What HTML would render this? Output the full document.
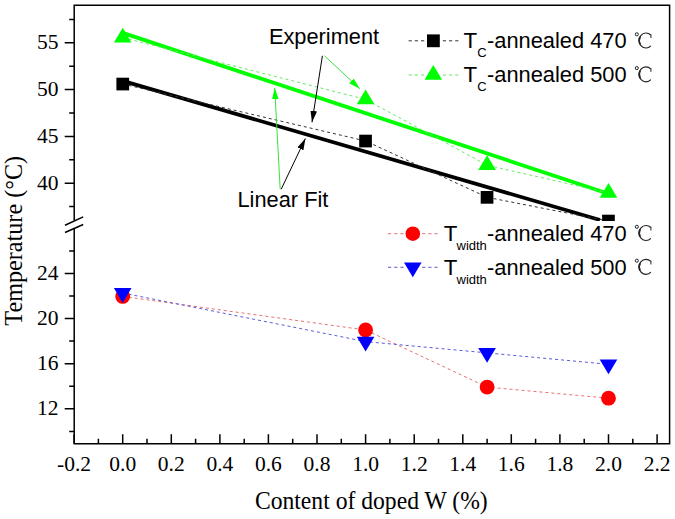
<!DOCTYPE html>
<html><head><meta charset="utf-8"><title>Temperature vs Content of doped W</title>
<style>html,body{margin:0;padding:0;background:#fff;width:675px;height:519px;overflow:hidden}svg{display:block}</style>
</head><body><svg width="675" height="519" viewBox="0 0 675 519"><rect x="0" y="0" width="675" height="519" fill="#fff"/><defs><clipPath id="cu"><rect x="74.2" y="5.2" width="595.4" height="215.8"/></clipPath><clipPath id="cl"><rect x="74.2" y="228.6" width="595.4" height="215.2"/></clipPath><marker id="ab" markerWidth="11.5" markerHeight="6.6" refX="11.5" refY="3.3" orient="auto" markerUnits="userSpaceOnUse"><path d="M0,0 L11.5,3.3 L0,6.6 Z" fill="#000"/></marker><marker id="ag" markerWidth="11.5" markerHeight="6.6" refX="11.5" refY="3.3" orient="auto" markerUnits="userSpaceOnUse"><path d="M0,0 L11.5,3.3 L0,6.6 Z" fill="#00ff00"/></marker></defs><g clip-path="url(#cu)"><line x1="122.7" y1="32.9" x2="608.5" y2="193.7" stroke="#00ff00" stroke-width="3.8"/><line x1="122.7" y1="80.9" x2="600" y2="220.0" stroke="#000" stroke-width="3.7"/><polyline points="122.7,84.0 365.6,141.0 487.1,197.3 608.5,221.1" fill="none" stroke="#333" stroke-width="1" stroke-dasharray="3,3"/><polyline points="122.7,37.6 365.6,99.4 487.1,165.2 608.5,192.9" fill="none" stroke="#66e866" stroke-width="1" stroke-dasharray="3,3"/><rect x="116.4" y="77.7" width="12.7" height="12.7" fill="#000"/><rect x="359.2" y="134.7" width="12.7" height="12.7" fill="#000"/><rect x="480.7" y="191.0" width="12.7" height="12.7" fill="#000"/><rect x="602.1" y="214.7" width="12.7" height="12.7" fill="#000"/><path d="M122.7,27.7 L131.5,42.5 L113.9,42.5 Z" fill="#00ff00"/><path d="M365.6,89.5 L374.4,104.3 L356.8,104.3 Z" fill="#00ff00"/><path d="M487.1,155.3 L495.9,170.1 L478.2,170.1 Z" fill="#00ff00"/><path d="M608.5,183.0 L617.3,197.8 L599.7,197.8 Z" fill="#00ff00"/></g><g clip-path="url(#cl)"><polyline points="122.7,296.4 365.6,330.0 487.1,387.1 608.5,398.2" fill="none" stroke="#e87070" stroke-width="1" stroke-dasharray="3,3"/><polyline points="122.7,293.0 365.6,341.6 487.1,352.9 608.5,364.3" fill="none" stroke="#5a5ad8" stroke-width="1" stroke-dasharray="3,3"/><circle cx="122.7" cy="296.4" r="7.4" fill="#ff0000"/><circle cx="365.6" cy="330.0" r="7.4" fill="#ff0000"/><circle cx="487.1" cy="387.1" r="7.4" fill="#ff0000"/><circle cx="608.5" cy="398.2" r="7.4" fill="#ff0000"/><path d="M122.7,302.9 L131.5,288.1 L113.9,288.1 Z" fill="#0000ff"/><path d="M365.6,351.5 L374.4,336.7 L356.8,336.7 Z" fill="#0000ff"/><path d="M487.1,362.8 L495.9,348.0 L478.2,348.0 Z" fill="#0000ff"/><path d="M608.5,374.2 L617.3,359.4 L599.7,359.4 Z" fill="#0000ff"/></g><path d="M74.2,220.4 V5.2 H669.6 V443.8 H74.2 V228.6 M74.2,443.8 V228.6" fill="none" stroke="#000" stroke-width="1.5"/><path d="M65,225.2 L83.2,216.9 M65,232.5 L83.2,224.5" stroke="#000" stroke-width="1.5"/><path d="M64.7,183.2 H74.2 M64.7,136.4 H74.2 M64.7,89.6 H74.2 M64.7,42.8 H74.2 M69.2,206.6 H74.2 M69.2,159.8 H74.2 M69.2,113.0 H74.2 M69.2,66.2 H74.2 M69.2,19.4 H74.2 M64.7,408.8 H74.2 M64.7,363.7 H74.2 M64.7,318.6 H74.2 M64.7,273.5 H74.2 M69.2,431.4 H74.2 M69.2,386.2 H74.2 M69.2,341.1 H74.2 M69.2,296.1 H74.2 M69.2,251.0 H74.2 M74.1,443.8 V434.3 M122.7,443.8 V434.3 M171.3,443.8 V434.3 M219.9,443.8 V434.3 M268.4,443.8 V434.3 M317.0,443.8 V434.3 M365.6,443.8 V434.3 M414.2,443.8 V434.3 M462.8,443.8 V434.3 M511.3,443.8 V434.3 M559.9,443.8 V434.3 M608.5,443.8 V434.3 M657.1,443.8 V434.3 M98.4,443.8 V438.8 M147.0,443.8 V438.8 M195.6,443.8 V438.8 M244.2,443.8 V438.8 M292.7,443.8 V438.8 M341.3,443.8 V438.8 M389.9,443.8 V438.8 M438.5,443.8 V438.8 M487.1,443.8 V438.8 M535.6,443.8 V438.8 M584.2,443.8 V438.8 M632.8,443.8 V438.8" stroke="#000" stroke-width="1.5" fill="none"/><text x="58.5" y="189.8" text-anchor="end" style="font-family:&quot;Liberation Serif&quot;,serif;font-size:21.5px">40</text><text x="58.5" y="143.0" text-anchor="end" style="font-family:&quot;Liberation Serif&quot;,serif;font-size:21.5px">45</text><text x="58.5" y="96.2" text-anchor="end" style="font-family:&quot;Liberation Serif&quot;,serif;font-size:21.5px">50</text><text x="58.5" y="49.4" text-anchor="end" style="font-family:&quot;Liberation Serif&quot;,serif;font-size:21.5px">55</text><text x="58.5" y="415.4" text-anchor="end" style="font-family:&quot;Liberation Serif&quot;,serif;font-size:21.5px">12</text><text x="58.5" y="370.3" text-anchor="end" style="font-family:&quot;Liberation Serif&quot;,serif;font-size:21.5px">16</text><text x="58.5" y="325.2" text-anchor="end" style="font-family:&quot;Liberation Serif&quot;,serif;font-size:21.5px">20</text><text x="58.5" y="280.1" text-anchor="end" style="font-family:&quot;Liberation Serif&quot;,serif;font-size:21.5px">24</text><text x="74.1" y="470.7" text-anchor="middle" style="font-family:&quot;Liberation Serif&quot;,serif;font-size:21.5px">-0.2</text><text x="122.7" y="470.7" text-anchor="middle" style="font-family:&quot;Liberation Serif&quot;,serif;font-size:21.5px">0.0</text><text x="171.3" y="470.7" text-anchor="middle" style="font-family:&quot;Liberation Serif&quot;,serif;font-size:21.5px">0.2</text><text x="219.9" y="470.7" text-anchor="middle" style="font-family:&quot;Liberation Serif&quot;,serif;font-size:21.5px">0.4</text><text x="268.4" y="470.7" text-anchor="middle" style="font-family:&quot;Liberation Serif&quot;,serif;font-size:21.5px">0.6</text><text x="317.0" y="470.7" text-anchor="middle" style="font-family:&quot;Liberation Serif&quot;,serif;font-size:21.5px">0.8</text><text x="365.6" y="470.7" text-anchor="middle" style="font-family:&quot;Liberation Serif&quot;,serif;font-size:21.5px">1.0</text><text x="414.2" y="470.7" text-anchor="middle" style="font-family:&quot;Liberation Serif&quot;,serif;font-size:21.5px">1.2</text><text x="462.8" y="470.7" text-anchor="middle" style="font-family:&quot;Liberation Serif&quot;,serif;font-size:21.5px">1.4</text><text x="511.3" y="470.7" text-anchor="middle" style="font-family:&quot;Liberation Serif&quot;,serif;font-size:21.5px">1.6</text><text x="559.9" y="470.7" text-anchor="middle" style="font-family:&quot;Liberation Serif&quot;,serif;font-size:21.5px">1.8</text><text x="608.5" y="470.7" text-anchor="middle" style="font-family:&quot;Liberation Serif&quot;,serif;font-size:21.5px">2.0</text><text x="657.1" y="470.7" text-anchor="middle" style="font-family:&quot;Liberation Serif&quot;,serif;font-size:21.5px">2.2</text><text transform="translate(371.3,509.3) scale(0.95,1)" text-anchor="middle" style="font-family:&quot;Liberation Serif&quot;,serif;font-size:24.9px">Content of doped W (%)</text><text transform="translate(21.6,240.8) rotate(-90) scale(0.96,1)" text-anchor="middle" style="font-family:&quot;Liberation Serif&quot;,serif;font-size:25.2px">Temperature (°C)</text><text x="268.9" y="43.9" style="font-family:&quot;Liberation Sans&quot;,sans-serif;font-size:21.8px">Experiment</text><text x="237.5" y="207.2" style="font-family:&quot;Liberation Sans&quot;,sans-serif;font-size:21.8px">Linear Fit</text><line x1="322.4" y1="55.8" x2="312.0" y2="122.3" stroke="#000" stroke-width="1" marker-end="url(#ab)"/><line x1="324.5" y1="55.8" x2="359.8" y2="88.75" stroke="#3ee03e" stroke-width="1" marker-end="url(#ag)"/><line x1="280.2" y1="189.2" x2="274.7" y2="87.8" stroke="#3ee03e" stroke-width="1" marker-end="url(#ag)"/><line x1="281.2" y1="189.2" x2="305.4" y2="138.5" stroke="#000" stroke-width="1" marker-end="url(#ab)"/><text x="463.5" y="48.4" style="font-family:&quot;Liberation Sans&quot;,sans-serif;font-size:22.3px">T</text><text x="477.2" y="56.9" style="font-family:&quot;Liberation Sans&quot;,sans-serif;font-size:13px">C</text><text transform="translate(487.0,48.4) scale(0.98,1)" style="font-family:&quot;Liberation Sans&quot;,sans-serif;font-size:22.3px">-annealed 470</text><circle cx="636.80" cy="34.30" r="1.55" fill="none" stroke="#222" stroke-width="1.0"/><path d="M650.71,35.01 A6.90,7.50 0 1 0 650.88,45.80" fill="none" stroke="#222" stroke-width="1.2"/><path d="M640.12,36.75 A6.90,7.50 0 0 0 640.12,44.25" fill="none" stroke="#222" stroke-width="1.7"/><path d="M650.91,34.21 V38.01" stroke="#222" stroke-width="1.0"/><line x1="408.6" y1="40.8" x2="424.2" y2="40.8" stroke="#333" stroke-width="1" stroke-dasharray="3.2,3"/><line x1="442.8" y1="40.8" x2="458.4" y2="40.8" stroke="#333" stroke-width="1" stroke-dasharray="3.2,3"/><rect x="427.0" y="34.4" width="12.8" height="12.8" fill="#000"/><text x="463.5" y="82.2" style="font-family:&quot;Liberation Sans&quot;,sans-serif;font-size:22.3px">T</text><text x="477.2" y="90.7" style="font-family:&quot;Liberation Sans&quot;,sans-serif;font-size:13px">C</text><text transform="translate(487.0,82.2) scale(0.98,1)" style="font-family:&quot;Liberation Sans&quot;,sans-serif;font-size:22.3px">-annealed 500</text><circle cx="636.80" cy="68.10" r="1.55" fill="none" stroke="#222" stroke-width="1.0"/><path d="M650.71,68.81 A6.90,7.50 0 1 0 650.88,79.60" fill="none" stroke="#222" stroke-width="1.2"/><path d="M640.12,70.55 A6.90,7.50 0 0 0 640.12,78.05" fill="none" stroke="#222" stroke-width="1.7"/><path d="M650.91,68.01 V71.81" stroke="#222" stroke-width="1.0"/><line x1="408.6" y1="75.0" x2="424.2" y2="75.0" stroke="#66e866" stroke-width="1" stroke-dasharray="3.2,3"/><line x1="442.8" y1="75.0" x2="458.4" y2="75.0" stroke="#66e866" stroke-width="1" stroke-dasharray="3.2,3"/><path d="M433.3,65.0 L442.1,79.8 L424.5,79.8 Z" fill="#00ff00"/><text x="443.7" y="240.9" style="font-family:&quot;Liberation Sans&quot;,sans-serif;font-size:22.3px">T</text><text x="456.5" y="249.6" style="font-family:&quot;Liberation Sans&quot;,sans-serif;font-size:13px">width</text><text transform="translate(487.0,240.9) scale(0.98,1)" style="font-family:&quot;Liberation Sans&quot;,sans-serif;font-size:22.3px">-annealed 470</text><circle cx="636.80" cy="226.80" r="1.55" fill="none" stroke="#222" stroke-width="1.0"/><path d="M650.71,227.51 A6.90,7.50 0 1 0 650.88,238.30" fill="none" stroke="#222" stroke-width="1.2"/><path d="M640.12,229.25 A6.90,7.50 0 0 0 640.12,236.75" fill="none" stroke="#222" stroke-width="1.7"/><path d="M650.91,226.71 V230.51" stroke="#222" stroke-width="1.0"/><line x1="388.0" y1="233.7" x2="403.8" y2="233.7" stroke="#e87070" stroke-width="1" stroke-dasharray="3.2,3"/><line x1="422.1" y1="233.7" x2="437.6" y2="233.7" stroke="#e87070" stroke-width="1" stroke-dasharray="3.2,3"/><circle cx="412.8" cy="233.7" r="7.3" fill="#ff0000"/><text x="443.7" y="274.8" style="font-family:&quot;Liberation Sans&quot;,sans-serif;font-size:22.3px">T</text><text x="456.5" y="283.5" style="font-family:&quot;Liberation Sans&quot;,sans-serif;font-size:13px">width</text><text transform="translate(487.0,274.8) scale(0.98,1)" style="font-family:&quot;Liberation Sans&quot;,sans-serif;font-size:22.3px">-annealed 500</text><circle cx="636.80" cy="260.70" r="1.55" fill="none" stroke="#222" stroke-width="1.0"/><path d="M650.71,261.41 A6.90,7.50 0 1 0 650.88,272.20" fill="none" stroke="#222" stroke-width="1.2"/><path d="M640.12,263.15 A6.90,7.50 0 0 0 640.12,270.65" fill="none" stroke="#222" stroke-width="1.7"/><path d="M650.91,260.61 V264.41" stroke="#222" stroke-width="1.0"/><line x1="388.0" y1="267.3" x2="403.8" y2="267.3" stroke="#5a5ad8" stroke-width="1" stroke-dasharray="3.2,3"/><line x1="422.1" y1="267.3" x2="437.6" y2="267.3" stroke="#5a5ad8" stroke-width="1" stroke-dasharray="3.2,3"/><path d="M412.8,277.2 L421.6,262.4 L404.0,262.4 Z" fill="#0000ff"/></svg></body></html>
